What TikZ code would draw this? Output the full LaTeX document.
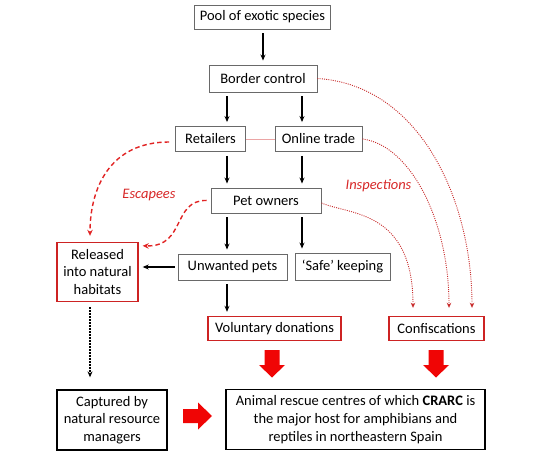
\documentclass[tikz,border=0pt]{standalone}
\usepackage{fontspec}
\setmainfont{Carlito}
\usetikzlibrary{arrows.meta,calc}
\definecolor{boxgray}{RGB}{105,105,105}
\definecolor{boxred}{RGB}{205,35,35}
\definecolor{bigred}{RGB}{240,5,5}
\definecolor{dashred}{RGB}{225,35,35}
\definecolor{dotred}{RGB}{200,45,45}
\definecolor{txtred}{RGB}{215,40,40}
\definecolor{linkred}{RGB}{235,165,165}
\begin{document}
\begin{tikzpicture}[x=1pt,y=-1pt,
  base/.style={inner sep=0pt,font=\fontsize{14.5}{17.7}\selectfont,align=center},
  graybox/.style={base,draw=boxgray,line width=0.9pt},
  redbox/.style={base,draw=boxred,line width=1.4pt},
  blackbox/.style={base,draw=black,line width=1.3pt},
  flow/.style={-{Stealth[length=6pt,width=5pt]},line width=1.3pt,black,shorten <=4pt,shorten >=4pt},
  escape/.style={-{Stealth[length=6pt,width=5.5pt]},dashred,line width=1.4pt,dash pattern=on 4.5pt off 3pt},
  inspect/.style={-{Stealth[length=5pt,width=4.5pt]},dotred,line width=0.9pt,dash pattern=on 1pt off 1.2pt},
  lbl/.style={base,text=txtred,font=\fontsize{14.5}{17.7}\selectfont\itshape},
  bigarrow/.style={fill=bigred,draw=none}]
\useasboundingbox (0,0) rectangle (540,454);
% columns
\coordinate (colL) at (227,0);
\coordinate (colR) at (302,0);
\coordinate (col0) at (90,0);
% nodes
\node[graybox,minimum width=136pt,minimum height=24pt] (pool) at (262.5,17) {Pool of exotic species};
\node[graybox,minimum width=108pt,minimum height=27pt] (border) at (263,78.5) {Border control};
\node[graybox,minimum width=70pt,minimum height=25pt] (retail) at (210.5,139) {Retailers};
\node[graybox,minimum width=87pt,minimum height=25pt] (online) at (318.5,139) {Online trade};
\node[graybox,minimum width=110pt,minimum height=25pt] (pet) at (266,200.5) {Pet owners};
\node[graybox,minimum width=109pt,minimum height=26pt] (unwanted) at (232.5,267) {Unwanted pets};
\node[graybox,minimum width=95pt,minimum height=27pt] (safe) at (342.5,266.5) {`Safe' keeping};
\node[redbox,minimum width=81pt,minimum height=59pt] (released) at (97.5,272) {Released\\into natural\\habitats};
\node[redbox,minimum width=133pt,minimum height=24pt] (vol) at (274.5,328.5) {Voluntary donations};
\node[redbox,minimum width=95pt,minimum height=24pt] (conf) at (436.5,328.5) {Confiscations};
\node[blackbox,minimum width=110pt,minimum height=60pt] (captured) at (112,420) {Captured by\\natural resource\\managers};
\node[blackbox,minimum width=259pt,minimum height=60pt] (rescue) at (355.5,419.5) {Animal rescue centres of which \textbf{CRARC} is\\the major host for amphibians and\\reptiles in northeastern Spain};
% labels
\node[lbl] (escl) at (149,195) {Escapees};
\node[lbl] (insl) at (378.5,186) {Inspections};
% black flow arrows
\draw[flow] (pool.south -| border.north) -- (border.north);
\draw[flow] (border.south -| colL) -- (retail.north -| colL);
\draw[flow] (border.south -| colR) -- (online.north -| colR);
\draw[flow] (retail.south -| colL) -- (pet.north -| colL);
\draw[flow] (online.south -| colR) -- (pet.north -| colR);
\draw[flow] (pet.south -| colL) -- (unwanted.north -| colL);
\draw[flow] (pet.south -| colR) -- (safe.north -| colR);
\draw[flow] (unwanted.south -| colL) -- (vol.north -| colL);
\draw[flow,shorten <=3pt] (unwanted.west) -- (released.east |- unwanted.west);
% retailers - online trade link
\draw[linkred,line width=0.8pt] (retail.east) -- (online.east -| online.west);
% dotted black arrow
\draw[-{Stealth[length=6pt,width=5pt]},black,line width=1.6pt,dash pattern=on 1.6pt off 1.4pt,shorten <=5pt,shorten >=12pt]
  (released.south -| col0) -- (captured.north -| col0);
% escapees (dashed red)
\draw[escape,shorten <=6pt,shorten >=6pt] ($(retail.west)+(0,3)$) .. controls (110,142) and (90,188) .. (released.north -| col0);
\draw[escape,shorten <=4pt] (pet.west) .. controls (172,200) and (186,247) .. ($(released.north east)+(4,4)$);
% inspections (dotted red)
\draw[inspect,shorten >=8pt] (border.east) .. controls (420,85) and (472,200) .. (conf.north -| 472,0);
\draw[inspect,shorten >=8pt] (online.east) .. controls (410,145) and (449,220) .. (conf.north -| 449,0);
\draw[inspect,shorten >=8pt] ($(pet.east)+(0,2.5)$) .. controls (350,215) and (413,210) .. (conf.north -| 413,0);
% big red block arrows
\fill[bigarrow,shift={(272,350)}] (-7.5,0) -- (7.5,0) -- (7.5,15) -- (13,15) -- (0,27.5) -- (-13,15) -- (-7.5,15) -- cycle;
\fill[bigarrow,shift={(436,350)}] (-7.5,0) -- (7.5,0) -- (7.5,15) -- (13,15) -- (0,27.5) -- (-13,15) -- (-7.5,15) -- cycle;
\fill[bigarrow,shift={(183,416)}] (0,-7) -- (15,-7) -- (15,-13.5) -- (29,0) -- (15,13.5) -- (15,7) -- (0,7) -- cycle;
\end{tikzpicture}
\end{document}
